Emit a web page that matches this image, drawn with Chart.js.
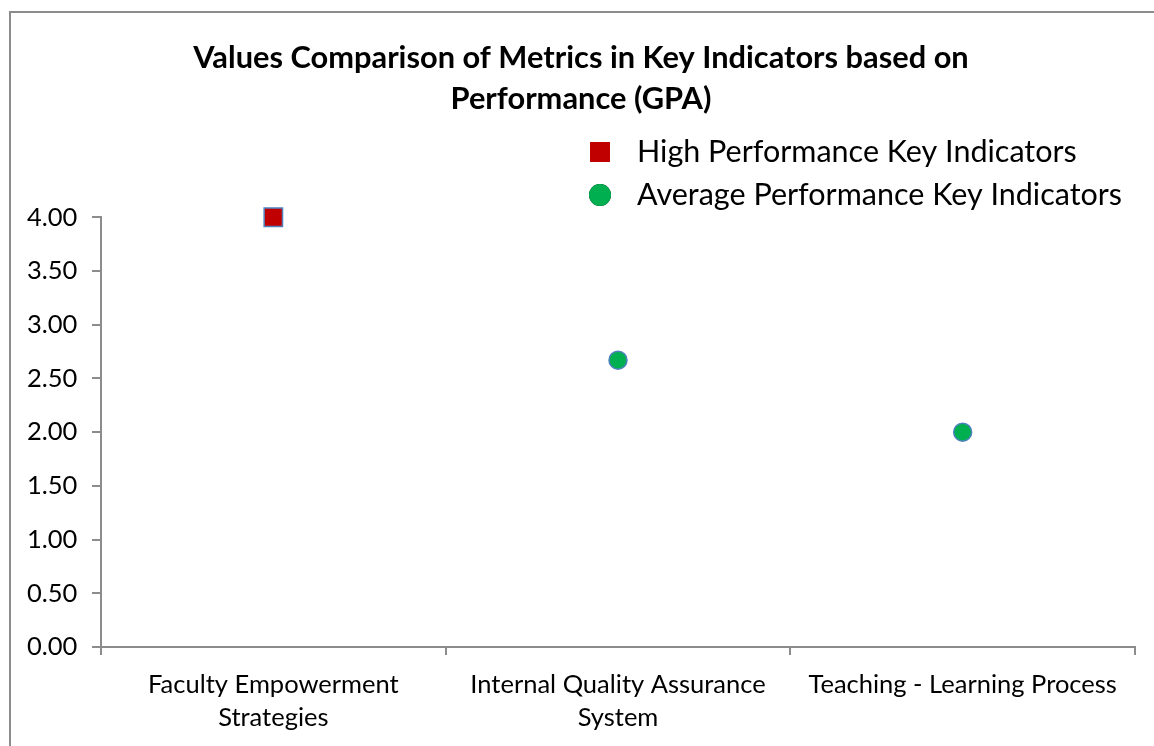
<!DOCTYPE html>
<html>
<head>
<meta charset="utf-8">
<script src="https://cdn.jsdelivr.net/npm/chart.js@4.4.1/dist/chart.umd.min.js"></script>
<style>
  body { margin: 0; background: #fff; overflow: hidden; }
  #wrap { position: relative; width: 1154px; height: 746px; }
  #frame { position: absolute; left: 9px; top: 11px; width: 1160px; height: 760px; border: 2px solid #8c8c8c; box-sizing: border-box; pointer-events: none; }
  canvas { position: absolute; left: 0; top: 0; }
</style>
</head>
<body>
<div id="wrap">
  <canvas id="chart" width="1154" height="746"></canvas>
  <div id="frame"></div>
</div>
<script>
// chart data
const categories = [
    ['Faculty Empowerment', 'Strategies'],
    ['Internal Quality Assurance', 'System'],
    'Teaching - Learning Process'
];
const highValues = [4.00, null, null];
const averageValues = [null, 2.67, 2.00];
const seriesNames = ['High Performance Key Indicators', 'Average Performance Key Indicators'];
const titleLines = ['Values Comparison of Metrics in Key Indicators based on', 'Performance (GPA)'];

const font = 'Lato, "Open Sans", sans-serif';
const axisGrey = '#8c8c8c';

// legend drawn as a stacked list above the plot
const stackedLegend = {
    id: 'stackedLegend',
    afterDraw(chart, args, opts) {
        const ctx = chart.ctx;
        ctx.save();
        chart.data.datasets.forEach((ds, i) => {
            const y = opts.y + i * opts.gap;
            Chart.helpers.drawPoint(ctx, {
                pointStyle: ds.pointStyle,
                radius: ds.pointStyle === 'rect' ? 14 : 11,
                borderWidth: 0,
                rotation: 0
            }, opts.x, y);
            ctx.fillStyle = ds.backgroundColor;
            ctx.fill();
            ctx.fillStyle = '#000';
            ctx.font = opts.fontSize + 'px ' + font;
            ctx.textBaseline = 'middle';
            ctx.fillText(ds.label, opts.x + opts.textGap, y);
        });
        ctx.restore();
    }
};

new Chart(document.getElementById('chart').getContext('2d'), {
    type: 'line',
    data: {
        labels: categories,
        datasets: [
            {
                label: seriesNames[0],
                data: highValues,
                showLine: false,
                clip: false,
                pointStyle: 'rect',
                pointRadius: 13,
                pointHoverRadius: 13,
                backgroundColor: '#c00000',
                borderColor: '#4f81bd',
                pointBorderWidth: 1.5
            },
            {
                label: seriesNames[1],
                data: averageValues,
                showLine: false,
                clip: false,
                pointStyle: 'circle',
                pointRadius: 9,
                pointHoverRadius: 9,
                backgroundColor: '#00b050',
                borderColor: '#4f81bd',
                pointBorderWidth: 1.5
            }
        ]
    },
    options: {
        responsive: false,
        animation: false,
        layout: { padding: { left: 27, right: 19, top: 0, bottom: 3 } },
        plugins: {
            legend: { display: false },
            tooltip: { enabled: false },
            title: {
                display: true,
                text: titleLines,
                color: '#000',
                font: { family: font, size: 30.8, weight: 'bold', lineHeight: 1.32 },
                padding: { top: 38, bottom: 98 }
            },
            stackedLegend: { x: 600, y: 152, gap: 43, textGap: 37, fontSize: 30.5 }
        },
        scales: {
            x: {
                offset: true,
                afterFit: scale => { scale.height = 96; },
                border: { color: axisGrey, width: 2 },
                grid: { offset: true, drawOnChartArea: false, drawTicks: true, tickLength: 8, color: axisGrey, lineWidth: 2 },
                ticks: { color: '#000', font: { family: font, size: 25.5, lineHeight: 1.3 }, maxRotation: 0, padding: 13 }
            },
            y: {
                min: 0,
                max: 4,
                afterFit: scale => { scale.width = 74; },
                border: { color: axisGrey, width: 2 },
                grid: { drawOnChartArea: false, drawTicks: true, tickLength: 9, color: axisGrey, lineWidth: 2 },
                ticks: {
                    stepSize: 0.5,
                    color: '#000',
                    font: { family: font, size: 25.5 },
                    crossAlign: 'far',
                    padding: 17,
                    callback: v => v.toFixed(2)
                }
            }
        }
    },
    plugins: [stackedLegend]
});
</script>
</body>
</html>
